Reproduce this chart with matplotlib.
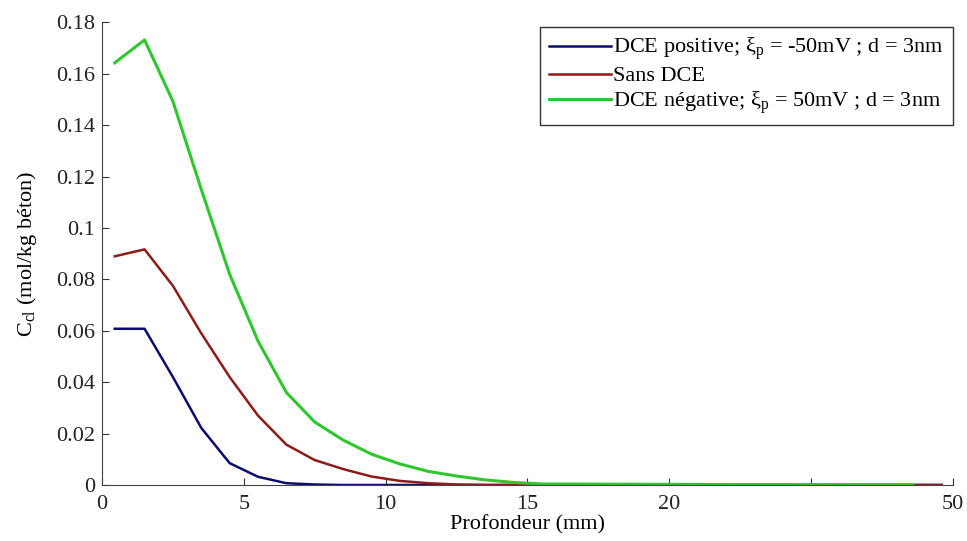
import numpy as np
import matplotlib
matplotlib.use("Agg")
import matplotlib.pyplot as plt

plt.rcParams['font.family'] = ['Liberation Serif', 'DejaVu Serif']
plt.rcParams['mathtext.fontset'] = 'custom'
plt.rcParams['mathtext.rm'] = 'Liberation Serif'
plt.rcParams['mathtext.it'] = 'Liberation Serif'

# profondeur (mm)
x = [0.45, 1.5, 2.5, 3.5, 4.5, 5.5, 6.5, 7.5, 8.5, 9.5, 10.5, 11.5, 12.5, 13.5, 14.5, 15.5, 29.6]
x_neg = [0.45, 1.5, 2.5, 3.5, 4.5, 5.5, 6.5, 7.5, 8.5, 9.5, 10.5, 11.5, 12.5, 13.5, 14.5, 15.5, 28.6]

# concentrations (mol/kg beton)
c_pos = [0.0608, 0.0608, 0.042, 0.0222, 0.0085, 0.0032, 0.0007, 0.0002, 0.0, 0.0, 0.0, 0.0, 0.0, 0.0, 0.0, 0.0, 0.0]
c_sans = [0.089, 0.0917, 0.0775, 0.059, 0.042, 0.027, 0.0157, 0.0097, 0.0062, 0.0033, 0.0016, 0.0007, 0.0002, 0.0, 0.0, 0.0, 0.0]
c_neg = [0.1643, 0.1732, 0.1493, 0.115, 0.082, 0.056, 0.036, 0.0245, 0.0175, 0.012, 0.0082, 0.0053, 0.0035, 0.002, 0.001, 0.0004, 0.0]

xticks = [0, 5, 10, 15, 20, 25, 30]
xtick_labels = ['0', '5', '10', '15', '20', '', '50']
yticks = [0, 0.02, 0.04, 0.06, 0.08, 0.1, 0.12, 0.14, 0.16, 0.18]
ytick_labels = ['0', '0.02', '0.04', '0.06', '0.08', '0.1', '0.12', '0.14', '0.16', '0.18']

fig = plt.figure(figsize=(9.67, 5.41), dpi=100)
ax = fig.add_axes([0.1055, 0.1035, 0.88, 0.855])

ax.plot(x, c_pos, color='#0c0c6e', lw=1.8,
        label=r'DCE positive; ξ$_{\mathrm{p}}$ = -50mV ; d = 3nm')
ax.plot(x, c_sans, color='#8e1a1a', lw=1.8, label='Sans DCE')
ax.plot(x_neg, c_neg, color='#2ec82e', lw=2.2,
        label=r'DCE négative; ξ$_{\mathrm{p}}$ = 50mV ; d = 3nm')

ax.set_xlim(0, 30)
ax.set_ylim(0, 0.18)
ax.set_xticks(xticks)
ax.set_xticklabels(xtick_labels)
ax.set_yticks(yticks)
ax.set_yticklabels(ytick_labels)
ax.tick_params(direction='in', length=5, labelsize=16, colors='#333333', labelcolor='#222222')
ax.tick_params(axis='x', pad=7)
ax.tick_params(axis='y', pad=5)
ax.spines['top'].set_visible(False)
ax.spines['right'].set_visible(False)
ax.spines['left'].set_color('#444444')
ax.spines['bottom'].set_color('#444444')

ax.set_xlabel('Profondeur (mm)', fontsize=16, labelpad=1)
ax.set_ylabel(r'C$_{\mathrm{cl}}$ (mol/kg béton)', fontsize=16, labelpad=12)

leg = ax.legend(loc='upper right', bbox_to_anchor=(1.0, 0.99), fontsize=16,
                fancybox=False, edgecolor='#333333', framealpha=1,
                handlelength=2.8, handletextpad=0.1, labelspacing=0.15,
                borderpad=0.4, borderaxespad=0.0)
leg.get_frame().set_linewidth(1.0)

plt.savefig('out.png', dpi=100)
